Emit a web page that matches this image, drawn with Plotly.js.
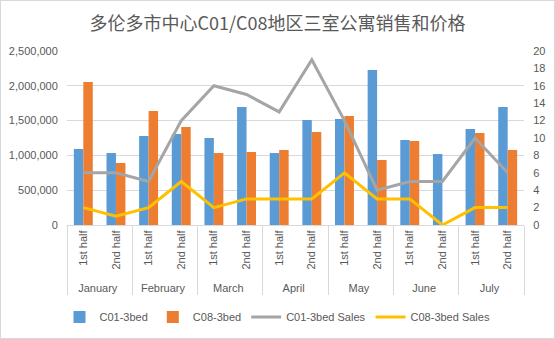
<!DOCTYPE html>
<html>
<head>
<meta charset="utf-8">
<script src="https://cdn.plot.ly/plotly-3.0.1.min.js"></script>
<style>
html,body{margin:0;padding:0;background:#fff;}
#chart{width:553px;height:337px;border:1px solid #d9d9d9;}
</style>
</head>
<body>
<div id="chart"></div>
<script>
var months = ['January','February','March','April','May','June','July'];
var halves = ['1st half','2nd half'];
var c01Price = [1092000,1034000,1279000,1307000,1250000,1695000,1034000,1509000,1523000,2227000,1221000,1020000,1379000,1695000];
var c08Price = [2055000,891000,1638000,1408000,1034000,1049000,1078000,1336000,1566000,934000,1207000,0,1322000,1078000];
var c01Sales = [6,6,5,12,16,15,13,19,12,4,5,5,10,6];
var c08Sales = [2,1,2,5,2,3,3,3,6,3,3,0,2,2];

var xMonth = [], xHalf = [];
months.forEach(function(m){ halves.forEach(function(h){ xMonth.push(m); xHalf.push(h); }); });
var x = [xMonth, xHalf];

var gray = '#595959';
var traces = [
  {type:'bar', name:'C01-3bed', x:x, y:c01Price, marker:{color:'#5b9bd5'}},
  {type:'bar', name:'C08-3bed', x:x, y:c08Price, marker:{color:'#ed7d31'}},
  {type:'scatter', mode:'lines', name:'C01-3bed Sales', x:x, y:c01Sales, yaxis:'y2', line:{color:'#a5a5a5', width:3}},
  {type:'scatter', mode:'lines', name:'C08-3bed Sales', x:x, y:c08Sales, yaxis:'y2', line:{color:'#ffc000', width:3}}
];

var layout = {
  width:553, height:337,
  margin:{l:66, r:30, t:50, b:113},
  paper_bgcolor:'#fff', plot_bgcolor:'#fff',
  font:{family:'Liberation Sans, Arial, sans-serif', size:11, color:gray},
  title:{text:'多伦多市中心C01/C08地区三室公寓销售和价格', font:{family:'Noto Sans CJK SC, sans-serif', size:18, color:gray}, x:0.5, xanchor:'center', y:0.932, yanchor:'middle'},
  barmode:'group', bargap:0.42, bargroupgap:0,
  showlegend:true,
  legend:{orientation:'h', xref:'container', yref:'container', x:0.5, xanchor:'center', y:0.062, yanchor:'middle', font:{size:11, color:gray}, traceorder:'normal'},
  xaxis:{type:'multicategory', automargin:false, tickangle:-90, showline:true, linecolor:'#d9d9d9', linewidth:1, showdividers:true, dividercolor:'#d9d9d9', dividerwidth:1, ticks:'', tickfont:{size:11, color:gray}, showgrid:false},
  yaxis:{automargin:false, range:[0,2500000], dtick:500000, tickformat:',d', showgrid:true, gridcolor:'#d9d9d9', zeroline:false, showline:false, tickfont:{size:11, color:gray}, ticks:'outside', ticklen:6, tickcolor:'rgba(0,0,0,0)'},
  yaxis2:{automargin:false, range:[0,20], dtick:2, overlaying:'y', side:'right', showgrid:false, zeroline:false, showline:false, tickfont:{size:11, color:gray}, ticks:'outside', ticklen:6, tickcolor:'rgba(0,0,0,0)'}
};

Plotly.newPlot('chart', traces, layout, {displayModeBar:false, staticPlot:true});
</script>
</body>
</html>
